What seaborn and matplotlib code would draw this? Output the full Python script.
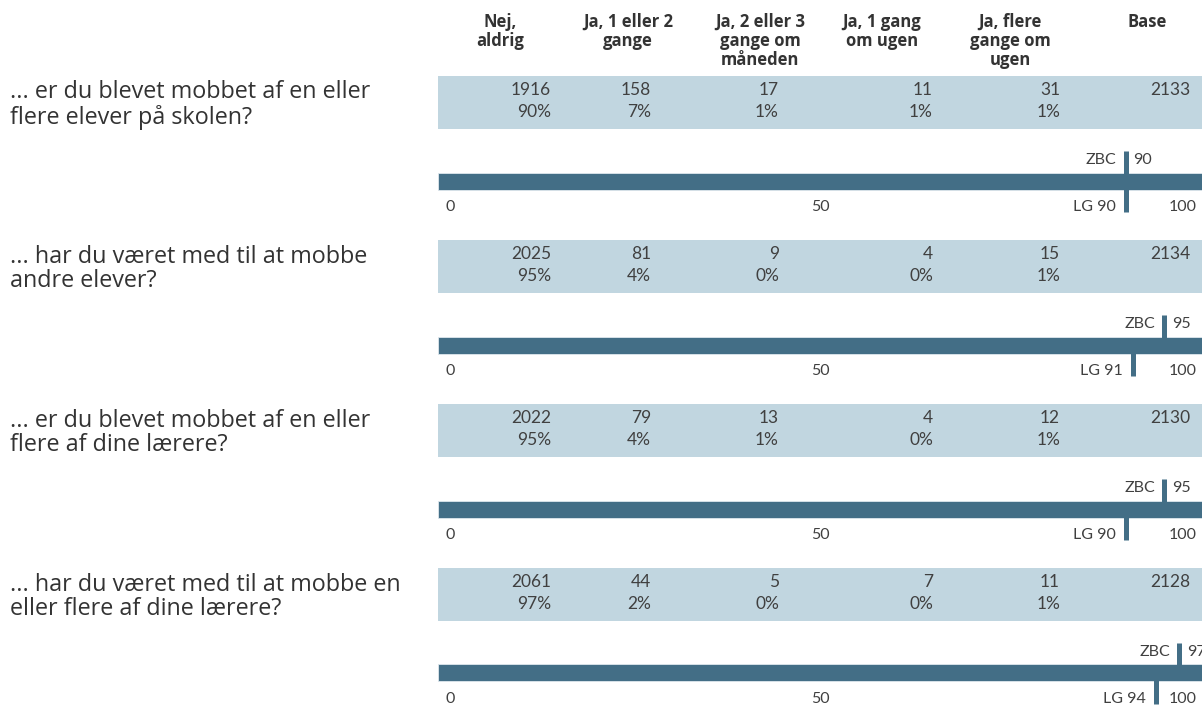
import numpy as np
import pandas as pd
import matplotlib
matplotlib.use('Agg')
import matplotlib.pyplot as plt
import seaborn as sns
from matplotlib.patches import Rectangle

questions = ['... er du blevet mobbet af en eller\nflere elever på skolen?',
             '... har du været med til at mobbe\nandre elever?',
             '... er du blevet mobbet af en eller\nflere af dine lærere?',
             '... har du været med til at mobbe en\neller flere af dine lærere?']
headers = ['Nej,\naldrig', 'Ja, 1 eller 2\ngange', 'Ja, 2 eller 3\ngange om\nmåneden',
           'Ja, 1 gang\nom ugen', 'Ja, flere\ngange om\nugen', 'Base']
counts = [[1916, 158, 17, 11, 31],
          [2025, 81, 9, 4, 15],
          [2022, 79, 13, 4, 12],
          [2061, 44, 5, 7, 11]]
pcts = [[90, 7, 1, 1, 1],
        [95, 4, 0, 0, 1],
        [95, 4, 1, 0, 1],
        [97, 2, 0, 0, 1]]
bases = [2133, 2134, 2130, 2128]
zbc = [90, 95, 95, 97]
lg = [90, 91, 90, 94]
scale_max = 100

W, H = 1202, 705
bar_col = '#436e86'
cell_col = '#c1d6e0'
txt_col = '#404040'

sns.set_theme(style='white')
plt.rcParams['font.family'] = ['Lato', 'DejaVu Sans']

fig = plt.figure(figsize=(W / 100, H / 100), dpi=100)
canvas = fig.add_axes([0, 0, 1, 1])
canvas.set_xlim(0, W)
canvas.set_ylim(H, 0)
canvas.axis('off')

# column layout (pixels)
head_x = [500, 628, 760, 882, 1010, 1147]
num_right = [551, 651, 779, 933, 1060, 1190]
table_left = 438
block_h = 164

for j, h in enumerate(headers):
    canvas.text(head_x[j], 13, h, ha='center', va='top', fontsize=12,
                fontweight='bold', color='#333333', linespacing=1.08,
                family=['Open Sans', 'DejaVu Sans'])

for i, q in enumerate(questions):
    y0 = 76 + i * block_h
    canvas.add_patch(Rectangle((table_left, y0), W - table_left, 53,
                               color=cell_col, lw=0))
    canvas.text(10, y0 + 29, q, ha='left', va='center', fontsize=16.8,
                color='#333333', family=['Open Sans', 'DejaVu Sans'],
                linespacing=1.02)
    row = counts[i] + [bases[i]]
    for j, v in enumerate(row):
        canvas.text(num_right[j], y0 + 14, str(v), ha='right', va='center',
                    fontsize=12.5, color=txt_col)
    for j, v in enumerate(pcts[i]):
        canvas.text(num_right[j], y0 + 36, f'{v}%', ha='right', va='center',
                    fontsize=12.5, color=txt_col)

    # score bar
    bar_top = 146 + i * block_h
    ax = fig.add_axes([table_left / W, 1 - (bar_top + 70) / H,
                       (W - table_left) / W, 70 / H])
    df = pd.DataFrame({'score': [scale_max], 'row': ['x']})
    sns.barplot(data=df, x='score', y='row', orient='h', color=bar_col,
                saturation=1, width=0.85, ax=ax, edgecolor='#dfe8ee', linewidth=0.6)
    ax.set_xlim(0, scale_max)
    ax.set_ylim(1.75, -1.75)
    ax.axis('off')
    ax.vlines(zbc[i], -1.5, 0.3, color=bar_col, lw=3.6)
    ax.vlines(lg[i], -0.3, 1.55, color=bar_col, lw=3.6)
    ax.annotate('ZBC', (zbc[i], -1.05), xytext=(-9, 0), textcoords='offset pixels',
                ha='right', va='center', fontsize=11.5, color=txt_col)
    ax.annotate(str(zbc[i]), (zbc[i], -1.05), xytext=(8, 0), textcoords='offset pixels',
                ha='left', va='center', fontsize=11.5, color=txt_col,
                annotation_clip=False)
    ax.annotate(f'LG {lg[i]}', (lg[i], 1.3), xytext=(-10, 0), textcoords='offset pixels',
                ha='right', va='center', fontsize=11.5, color=txt_col)
    ax.annotate('0', (0, 1.3), xytext=(7, 0), textcoords='offset pixels',
                ha='left', va='center', fontsize=11.5, color=txt_col)
    ax.annotate('50', (50, 1.3), ha='center', va='center', fontsize=11.5, color=txt_col)
    ax.annotate('100', (scale_max, 1.3), xytext=(-5, 0), textcoords='offset pixels',
                ha='right', va='center', fontsize=11.5, color=txt_col)

fig.savefig('out.png', dpi=100)
